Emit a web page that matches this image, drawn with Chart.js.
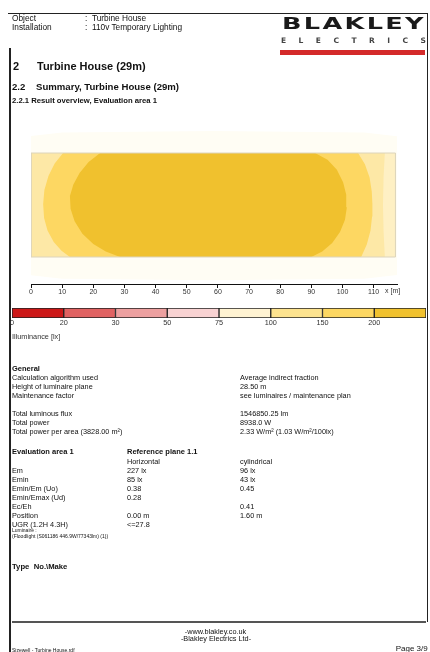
<!DOCTYPE html>
<html>
<head>
<meta charset="utf-8">
<script src="https://cdn.jsdelivr.net/npm/chart.js@4.4.1/dist/chart.umd.min.js"></script>
<style>
  html, body { margin: 0; padding: 0; background: #fff; }
  body { width: 430px; height: 652px; position: relative; overflow: hidden;
         font-family: "Liberation Sans", Arial, sans-serif; color: #111; }
  #page { position: absolute; left: 0; top: 0; width: 430px; height: 652px; opacity: 0.999; }
  .t { position: absolute; white-space: nowrap; font-size: 7.3px; line-height: 9px; }
  .b { font-weight: bold; font-size: 7.5px; }
  .line { position: absolute; background: #222; }
  canvas { position: absolute; left: 0; }
</style>
</head>
<body>
<div id="page">
<!-- frame -->
<div class="line" style="left:8px;top:12.5px;width:420px;height:1.5px;"></div>
<div class="line" style="left:8.5px;top:48px;width:2px;height:604px;"></div>
<div class="line" style="left:427.3px;top:13px;width:1px;height:609px;"></div>
<div class="line" style="left:12px;top:621px;width:414px;height:1.5px;background:#555;"></div>

<!-- header -->
<div class="t" style="left:12px;top:14.2px;font-size:8.3px;line-height:8.4px;">Object</div>
<div class="t" style="left:85px;top:14.2px;font-size:8.3px;line-height:8.4px;">:&nbsp;&nbsp;Turbine House</div>
<div class="t" style="left:12px;top:22.6px;font-size:8.3px;line-height:8.4px;">Installation</div>
<div class="t" style="left:85px;top:22.6px;font-size:8.3px;line-height:8.4px;">:&nbsp;&nbsp;110v Temporary Lighting</div>

<!-- logo -->
<div style="position:absolute;left:282px;top:16px;font-family:'DejaVu Sans';font-weight:bold;font-size:16.5px;line-height:16.5px;letter-spacing:1.5px;transform:scaleX(1.55);transform-origin:0 0;color:#1a1a1a;">BLAKLEY</div>
<div style="position:absolute;left:281px;top:36px;width:145px;display:flex;justify-content:space-between;font-family:'DejaVu Sans';font-weight:bold;font-size:7.5px;line-height:9px;color:#444;">
  <span>E</span><span>L</span><span>E</span><span>C</span><span>T</span><span>R</span><span>I</span><span>C</span><span>S</span>
</div>
<div style="position:absolute;left:280px;top:50px;width:145px;height:4.5px;background:#d42a2a;"></div>

<!-- headings -->
<div class="t" style="left:13px;top:59.9px;font-size:11px;line-height:13px;font-weight:bold;">2</div>
<div class="t" style="left:37px;top:59.9px;font-size:11px;line-height:13px;font-weight:bold;">Turbine House (29m)</div>
<div class="t" style="left:12px;top:80.7px;font-size:9.6px;line-height:11px;font-weight:bold;">2.2</div>
<div class="t" style="left:36px;top:80.7px;font-size:9.6px;line-height:11px;font-weight:bold;">Summary, Turbine House (29m)</div>
<div class="t" style="left:12px;top:96px;font-size:7.7px;line-height:9px;font-weight:bold;">2.2.1 Result overview, Evaluation area 1</div>

<!-- charts -->
<canvas id="plot" width="430" height="175" style="top:125px;width:430px;height:175px;"></canvas>
<div class="t" style="left:385px;top:286px;font-size:7px;color:#333;">x [m]</div>
<canvas id="scale" width="430" height="42" style="top:300px;width:430px;height:42px;"></canvas>
<div class="t" style="left:12px;top:331.7px;color:#333;">Illuminance [lx]</div>

<!-- general block -->
<div class="t b" style="left:12px;top:364.3px;">General</div>
<div class="t" style="left:12px;top:373.1px;">Calculation algorithm used</div>
<div class="t" style="left:12px;top:382px;">Height of luminaire plane</div>
<div class="t" style="left:12px;top:390.9px;">Maintenance factor</div>
<div class="t" style="left:12px;top:408.7px;">Total luminous flux</div>
<div class="t" style="left:12px;top:417.6px;">Total power</div>
<div class="t" style="left:12px;top:426.5px;">Total power per area (3828.00 m²)</div>

<div class="t" style="left:240px;top:373.1px;">Average indirect fraction</div>
<div class="t" style="left:240px;top:382px;">28.50 m</div>
<div class="t" style="left:240px;top:390.9px;">see luminaires / maintenance plan</div>
<div class="t" style="left:240px;top:408.7px;">1546850.25 lm</div>
<div class="t" style="left:240px;top:417.6px;">8938.0 W</div>
<div class="t" style="left:240px;top:426.5px;">2.33 W/m² (1.03 W/m²/100lx)</div>

<!-- evaluation block -->
<div class="t b" style="left:12px;top:446.6px;">Evaluation area 1</div>
<div class="t b" style="left:127px;top:446.6px;">Reference plane 1.1</div>
<div class="t" style="left:127px;top:456.5px;">Horizontal</div>
<div class="t" style="left:240px;top:456.5px;">cylindrical</div>
<div class="t" style="left:12px;top:465.5px;">Em</div>
<div class="t" style="left:127px;top:465.5px;">227 lx</div>
<div class="t" style="left:240px;top:465.5px;">96 lx</div>
<div class="t" style="left:12px;top:474.5px;">Emin</div>
<div class="t" style="left:127px;top:474.5px;">85 lx</div>
<div class="t" style="left:240px;top:474.5px;">43 lx</div>
<div class="t" style="left:12px;top:483.5px;">Emin/Em (Uo)</div>
<div class="t" style="left:127px;top:483.5px;">0.38</div>
<div class="t" style="left:240px;top:483.5px;">0.45</div>
<div class="t" style="left:12px;top:492.5px;">Emin/Emax (Ud)</div>
<div class="t" style="left:127px;top:492.5px;">0.28</div>
<div class="t" style="left:12px;top:501.5px;">Ec/Eh</div>
<div class="t" style="left:240px;top:501.5px;">0.41</div>
<div class="t" style="left:12px;top:510.5px;">Position</div>
<div class="t" style="left:127px;top:510.5px;">0.00 m</div>
<div class="t" style="left:240px;top:510.5px;">1.60 m</div>
<div class="t" style="left:12px;top:519.5px;">UGR (1.2H 4.3H)</div>
<div class="t" style="left:127px;top:519.5px;">&lt;=27.8</div>
<div class="t" style="left:12px;top:527px;font-size:5px;line-height:6px;">Luminaire :</div>
<div class="t" style="left:12px;top:532.7px;font-size:5px;line-height:6px;">(Floodlight (S061186 446.9W/77343lm) (1))</div>

<div class="t" style="left:12px;top:561.8px;font-size:7.7px;font-weight:bold;">Type&nbsp; No.\Make</div>

<!-- footer -->
<div class="t" style="left:0;width:431px;text-align:center;top:626.6px;">-www.blakley.co.uk</div>
<div class="t" style="left:0;width:432px;text-align:center;top:634.2px;">-Blakley Electrics Ltd-</div>
<div class="t" style="left:12px;top:647px;font-size:5px;line-height:6px;">Sizewell - Turbine House.rdf</div>
<div class="t" style="right:2.3px;top:643.7px;font-size:8px;line-height:10px;">Page 3/9</div>
</div>

<script>
// ---------- data (metres) ----------
const roomX = [0, 117, 117, 0, 0];
const roomY = [0, 0, 33.4, 33.4, 0];

// faint 75-100 lx halo around the building
const haloX = [-3, 10, 58.5, 107, 120, 122.5, 120, 107, 58.5, 10, -3, -5.5, -3];
const haloY = [-5.5, -7, -7.5, -7, -5.5, 16.7, 38.5, 40, 40.5, 40, 38.5, 16.7, -5.5];

// 75-100 lx strip at the right gable
const edgeX = [113.6, 113.2, 113.0, 113.2, 113.6, 117, 117, 113.6];
const edgeY = [0, 8, 16.7, 26, 33.4, 33.4, 0, 0];

// 150 lx isoline (closed, clipped to the room)
const iso150X = [10.3, 7.6, 5.6, 4.3, 3.9, 4.2, 5.3, 7.3, 9.8, 12.5,
                 106, 107.8, 109, 109.5, 109.6, 109.4, 108.7, 107.2, 105, 10.3];
const iso150Y = [33.4, 30, 26, 21.5, 17, 12.5, 8.5, 4.8, 2, 0,
                 0, 4, 8.5, 13, 17, 21, 25.5, 29.8, 33.4, 33.4];

// 200 lx isoline (closed, clipped to the room)
const iso200X = [22.2, 18.5, 15.6, 13.6, 12.5, 12.7, 14, 16.5, 20, 24, 28.6,
                 90, 93.5, 96.7, 99.2, 100.8, 101.4, 101.2, 100.2, 98.2, 95.2, 91.2, 22.2];
const iso200Y = [33.4, 30.5, 27, 23.3, 19.6, 15.5, 11.5, 7.5, 4.2, 1.8, 0,
                 0, 1.8, 4.5, 8, 12, 16, 20, 24, 28, 31.2, 33.4, 33.4];

// x-axis
const xTickMax = 110;
const xTickStep = 10;

// illuminance scale
const legendLabels = ['0', '20', '30', '50', '75', '100', '150', '200'];
const legendWidths = [1, 1, 1, 1, 1, 1, 1, 1];
const legendColors = ['#cc1818', '#e06262', '#eda0a0', '#f8d2d2', '#fff3d2', '#fde38f', '#fdd762', '#f0c12e'];

// ---------- build ----------
const zip = (xs, ys) => xs.map((x, i) => ({ x, y: ys[i] }));
const poly = (xs, ys, color, order, extra) => Object.assign({
  data: zip(xs, ys), showLine: true, fill: 'shape', backgroundColor: color,
  borderWidth: 0, pointRadius: 0, tension: 0, order
}, extra || {});

new Chart(document.getElementById('plot'), {
  type: 'scatter',
  data: {
    datasets: [
      poly(haloX, haloY, '#fffdf4', 6, { clip: false }),
      poly(roomX, roomY, '#fde8a6', 5),
      poly(edgeX, edgeY, '#fef0c4', 4),
      poly(iso150X, iso150Y, legendColors[6], 3),
      poly(iso200X, iso200Y, legendColors[7], 2),
      { data: zip(roomX, roomY), showLine: true, fill: false, borderColor: '#dcd4bc',
        borderWidth: 1, pointRadius: 0, order: 1 }
    ]
  },
  options: {
    responsive: false, animation: false,
    layout: { padding: { left: 31, right: 33, top: 5, bottom: 0 } },
    plugins: { legend: { display: false }, tooltip: { enabled: false } },
    scales: {
      x: {
        type: 'linear', min: 0, max: 117.5,
        grid: { display: true, drawOnChartArea: false, drawTicks: true, tickLength: 4, color: '#111', lineWidth: 1 },
        border: { display: true, color: '#111', width: 1 },
        ticks: {
          stepSize: xTickStep, includeBounds: false, padding: 0, color: '#333',
          font: { family: 'Liberation Sans', size: 7 }, maxRotation: 0, autoSkip: false,
          callback: (v) => (v <= xTickMax ? String(v) : '')
        },
        afterFit: (s) => { s.height = 16; }
      },
      y: { type: 'linear', display: false, min: -8.67, max: 40.79 }
    }
  }
});

new Chart(document.getElementById('scale'), {
  type: 'bar',
  data: {
    labels: [''],
    datasets: legendWidths.map((w, i) => ({
      data: [w], backgroundColor: legendColors[i], borderColor: '#222', borderWidth: 1,
      borderSkipped: false, barPercentage: 1, categoryPercentage: 1
    }))
  },
  options: {
    indexAxis: 'y', responsive: false, animation: false,
    layout: { padding: { left: 12, right: 4, top: 8, bottom: 0 } },
    plugins: { legend: { display: false }, tooltip: { enabled: false } },
    scales: {
      x: {
        type: 'linear', stacked: true, min: 0, max: legendWidths.length,
        grid: { display: false, drawTicks: false, tickLength: 0 }, border: { display: false },
        ticks: {
          stepSize: 1, padding: 1, color: '#333', autoSkip: false, maxRotation: 0,
          font: { family: 'Liberation Sans', size: 7.3 },
          callback: (v) => legendLabels[v] !== undefined ? legendLabels[v] : ''
        },
        afterFit: (s) => { s.height = 24; }
      },
      y: { stacked: true, display: false }
    }
  }
});
</script>
</body>
</html>
